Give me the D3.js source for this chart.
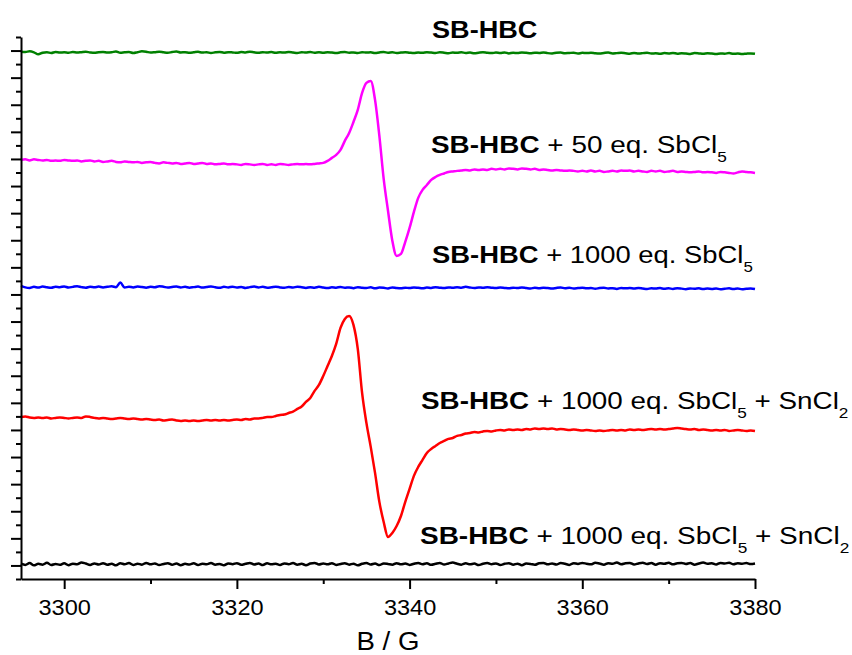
<!DOCTYPE html>
<html>
<head>
<meta charset="utf-8">
<script src="https://cdn.jsdelivr.net/npm/d3@7"></script>
<style>
  html, body { margin: 0; padding: 0; background: #fff; }
  svg { display: block; font-family: Arial, "Liberation Sans", Helvetica, sans-serif; }
  text { white-space: pre; }
</style>
</head>
<body>
<svg id="chart" width="852" height="655"></svg>
<script>
// ---- Field sweep (G) ------------------------------------------------------
const fieldStart = 3295;
const fieldEnd = 3380;
const fieldStep = 0.5;          // one sample every 0.5 G
const xMajorTicks = [3300, 3320, 3340, 3360, 3380];
const xMinorTicks = [3310, 3330, 3350, 3370];
const xTitle = "B / G";

// ---- Spectra (first-derivative EPR signal, a.u., relative to each baseline) ----
const sbHbc = [
  0.2, 0.0, 0.4, -0.3, -1.8, -0.6, -0.2, -0.8, -0.1, -0.5,
  -0.3, -0.6, -0.1, -0.5, -0.2, 0.1, -0.4, -0.7, -0.2, 0.0,
  -0.4, -0.2, 0.3, -0.6, -0.3, -0.1, -0.8, -0.2, 0.4, 0.1,
  -0.5, -0.2, 0.2, -0.3, -0.7, -0.1, 0.3, -0.4, -0.2, -0.6,
  -0.3, 0.1, -0.5, -0.2, -0.8, -0.3, 0.0, -0.6, -0.2, -0.4,
  -0.7, -0.1, -0.4, 0.2, -0.3, -0.6, -0.2, -0.5, -0.1, -0.7,
  -0.3, -0.5, 0.0, -0.4, -0.8, -0.2, -0.5, -0.1, -0.6, -0.3,
  -0.7, -0.2, -0.5, -0.9, -0.3, -0.1, -0.6, -0.4, -0.8, -0.2,
  -0.5, -0.3, -0.9, -0.4, -0.1, -0.6, -0.3, -0.8, -0.5, -0.2,
  -0.6, -0.9, -0.4, -0.7, -0.2, -0.5, -0.8, -0.3, -0.6, -1.0,
  -0.4, -0.7, -0.3, -0.8, -0.5, -1.0, -0.6, -0.3, -0.7, -0.9,
  -0.5, -0.8, -0.4, -1.1, -0.6, -0.9, -0.5, -0.7, -1.0, -0.6,
  -0.8, -0.4, -0.9, -1.1, -0.7, -0.5, -1.0, -0.8, -0.6, -1.2,
  -0.7, -0.9, -0.6, -1.0, -1.2, -0.8, -0.5, -1.1, -0.9, -0.7,
  -1.0, -1.3, -0.8, -1.1, -0.9, -0.6, -1.2, -1.0, -1.4, -0.9,
  -1.1, -0.8, -1.3, -1.0, -1.2, -1.5, -0.9, -1.1, -1.4, -1.0,
  -1.2, -1.5, -1.1, -1.3, -0.9, -1.4, -1.2, -1.6, -1.3, -1.1,
  -1.4
];

const sbHbcSbCl5x50 = [
  0.3, 0.7, -0.1, 0.7, 0.3, -0.1, 0.3, -0.4, -0.1, -0.4,
  0.3, -0.1, -0.4, -0.1, -0.8, -0.4, -0.1, -0.8, -0.4, -1.2,
  -0.8, -0.4, -1.2, -1.5, -0.8, -1.2, -1.5, -1.2, -1.9, -1.5,
  -1.2, -1.9, -2.3, -1.5, -1.9, -2.3, -1.9, -2.7, -2.3, -1.9,
  -2.7, -2.3, -1.9, -2.7, -2.3, -3.0, -2.7, -2.3, -3.0, -2.7,
  -3.0, -3.4, -2.7, -3.0, -3.4, -3.0, -2.7, -3.4, -3.0, -3.4,
  -2.7, -3.0, -3.4, -3.0, -2.7, -3.0, -2.7, -3.0, -2.7, -2.3,
  -1.9, -0.4, 1.8, 4.0, 7.7, 14.3, 20.2, 28.3, 37.2, 49.7,
  57.1, 58.6, 44.6, 18.0, -13.7, -37.2, -59.3, -70.6, -69.1, -60.2,
  -49.9, -38.1, -27.7, -21.8, -18.2, -14.5, -12.3, -10.8, -9.7, -8.6,
  -8.2, -7.8, -7.5, -7.1, -7.5, -6.7, -7.1, -6.7, -7.1, -6.3,
  -6.7, -6.3, -6.7, -6.0, -6.3, -6.7, -6.0, -6.3, -6.7, -6.3,
  -7.1, -6.7, -7.1, -7.5, -7.1, -7.5, -7.8, -7.5, -7.8, -8.2,
  -7.8, -8.2, -7.5, -8.2, -7.8, -8.6, -8.2, -7.8, -8.2, -7.5,
  -7.8, -7.5, -8.2, -7.8, -8.2, -8.6, -7.8, -8.2, -7.8, -8.6,
  -8.2, -7.8, -8.6, -8.2, -8.6, -8.9, -8.6, -8.2, -8.9, -8.6,
  -8.9, -9.3, -8.6, -8.9, -9.3, -9.7, -8.9, -8.2, -8.6, -8.9,
  -9.3
];

const sbHbcSbCl5x1000 = [
  0.3, -0.8, -1.2, -0.4, -0.9, -0.2, -0.7, -1.1, -0.3, -0.6,
  -0.1, -0.9, -0.4, 0.1, -0.6, -1.0, -0.3, -0.7, -0.2, -0.8,
  -0.4, 0.0, -0.6, 2.8, -0.9, -0.3, -0.8, -0.2, -0.5, -1.0,
  -0.4, -0.7, 0.1, -0.3, -0.9, -0.5, -0.2, -0.8, -0.4, -1.0,
  -0.6, -0.2, -0.9, -0.5, -0.1, -0.7, -1.1, -0.4, -0.8, -0.3,
  -0.9, -0.5, -1.2, -0.6, -0.2, -0.8, -0.4, -1.0, -0.7, -0.3,
  -0.8, -1.1, -0.5, -0.9, -0.3, -0.7, -1.2, -0.6, -1.0, -0.4,
  -0.9, -1.3, -0.7, -1.0, -0.5, -1.1, -0.8, -1.4, -0.6, -1.0,
  -1.2, -0.7, -1.5, -0.9, -1.1, -1.6, -0.8, -1.2, -1.4, -1.0,
  -1.3, -0.8, -1.1, -1.5, -0.9, -1.2, -0.6, -1.0, -1.3, -0.8,
  -1.1, -0.7, -1.0, -0.4, -0.9, -1.2, -0.8, -1.1, -0.6, -1.0,
  -1.3, -0.9, -1.2, -1.5, -1.0, -1.3, -0.8, -1.2, -1.6, -1.1,
  -1.4, -1.0, -1.3, -1.7, -1.2, -0.9, -1.4, -1.1, -1.6, -1.3,
  -1.0, -1.5, -1.2, -1.8, -1.3, -1.1, -1.6, -1.4, -1.9, -1.2,
  -1.5, -1.3, -1.7, -1.2, -1.6, -2.0, -1.4, -1.7, -1.3, -1.8,
  -1.5, -1.9, -1.4, -1.7, -2.1, -1.6, -1.8, -1.5, -2.0, -1.7,
  -1.9, -1.6, -2.2, -1.8, -1.5, -2.0, -1.7, -2.1, -1.8, -1.6,
  -2.0
];

const sbHbcSbCl5SnCl2a = [
  0.6, 1.0, 0.2, -0.1, 0.2, -0.1, 0.2, -0.5, -0.1, 0.2,
  -0.1, -0.5, -0.1, 0.2, -0.1, 1.0, 0.6, -0.1, -0.5, -0.1,
  -0.5, -0.9, -0.5, -0.1, -0.5, -0.9, -0.5, -0.9, -1.3, -0.9,
  -1.3, -1.6, -1.3, -2.0, -1.6, -1.3, -2.0, -2.4, -2.0, -2.4,
  -2.0, -2.4, -2.0, -1.6, -2.0, -1.6, -2.0, -1.6, -2.0, -1.6,
  -1.3, -1.6, -0.9, -1.3, -0.5, -0.5, -0.1, 0.6, 0.6, 1.3,
  2.1, 2.4, 3.5, 4.6, 6.5, 8.3, 11.7, 14.6, 19.8, 24.2,
  30.8, 38.2, 45.6, 54.5, 66.3, 72.9, 75.1, 68.5, 50.8, 18.3,
  -3.8, -21.5, -40.7, -62.1, -76.9, -88.0, -85.0, -79.9, -72.5, -62.1,
  -52.5, -42.9, -36.3, -31.1, -26.0, -23.0, -20.8, -18.6, -17.1, -15.6,
  -14.9, -13.4, -12.7, -11.6, -11.2, -10.5, -10.8, -10.1, -9.7, -10.1,
  -9.4, -9.0, -9.4, -8.6, -9.0, -8.6, -9.0, -8.3, -8.6, -7.9,
  -8.3, -7.9, -8.3, -7.9, -8.6, -8.3, -8.6, -9.0, -8.6, -9.0,
  -9.4, -9.0, -9.4, -9.7, -9.4, -9.7, -9.4, -9.0, -9.4, -9.0,
  -9.4, -8.6, -9.0, -8.6, -9.0, -8.6, -8.3, -8.6, -8.3, -8.6,
  -8.3, -7.9, -7.5, -7.9, -8.3, -8.6, -8.3, -9.0, -8.6, -9.0,
  -9.4, -9.0, -9.4, -9.0, -9.7, -9.4, -9.0, -9.4, -9.7, -9.4,
  -9.7
];

const sbHbcSbCl5SnCl2b = [
  0.3, -0.6, 0.8, -0.9, 0.2, -0.4, 1.0, -0.7, 0.1, -0.5,
  0.6, -0.8, 0.3, -0.2, 1.2, 0.4, -0.6, 0.5, -0.3, 0.7,
  -0.5, 0.2, -0.9, 0.6, -0.1, 0.8, -0.6, 0.3, -0.4, 0.9,
  -0.2, 0.5, -0.7, 0.1, 0.7, -0.5, 0.4, -0.8, 0.2, -0.3,
  0.6, -0.6, 0.3, -0.2, 0.8, -0.4, 0.1, -0.9, 0.5, -0.1,
  0.7, -0.5, 0.2, 0.9, -0.3, 0.4, -0.7, 0.6, -0.2, 0.3,
  -0.6, 0.5, -0.1, 0.8, -0.4, 0.2, -0.8, 0.4, 0.9, -0.3,
  0.5, -0.2, 0.7, -0.6, 0.1, 0.6, -0.4, 0.3, -0.9, 0.2,
  0.8, -0.3, 0.4, -0.7, 0.5, 0.1, -0.5, 0.7, -0.2, 0.4,
  -0.6, 0.3, 0.9, -0.1, 0.6, -0.5, 0.2, 0.8, -0.3, 0.5,
  1.1, 0.2, -0.4, 0.6, -0.2, 0.4, -0.7, 0.3, 0.8, -0.1,
  0.5, -0.6, 0.2, 0.7, -0.4, 0.3, -0.8, 0.4, 0.1, -0.5,
  0.6, 0.9, -0.2, 0.5, -0.3, 0.8, 0.2, -0.6, 0.7, 0.1,
  0.9, 0.3, -0.2, 1.0, 0.4, -0.4, 0.7, 0.2, 1.1, -0.1,
  0.6, 0.9, -0.3, 0.5, 1.0, 0.1, 0.8, -0.5, 0.7, 0.3,
  1.0, -0.2, 0.6, 0.9, 0.1, 0.8, -0.4, 0.5, 1.1, 0.2,
  0.7, -0.3, 0.9, 0.4, 1.0, -0.1, 0.6, 0.3, 0.8, 0.0,
  0.4
];

// Vertical stacking offset of each spectrum (a.u.)
const stackOffsets = [379, 299, 206, 109, 1];

// Legend text of each spectrum: b = bold, n = normal, s = subscript
const seriesLabels = [
  [["b", "SB-HBC"]],
  [["b", "SB-HBC"], ["n", " + 50 eq. SbCl"], ["s", "5"]],
  [["b", "SB-HBC"], ["n", " + 1000 eq. SbCl"], ["s", "5"]],
  [["b", "SB-HBC"], ["n", " + 1000 eq. SbCl"], ["s", "5"], ["n", " + SnCl"], ["s", "2"]],
  [["b", "SB-HBC"], ["n", " + 1000 eq. SbCl"], ["s", "5"], ["n", " + SnCl"], ["s", "2"]]
];

const spectra = [sbHbc, sbHbcSbCl5x50, sbHbcSbCl5x1000, sbHbcSbCl5SnCl2a, sbHbcSbCl5SnCl2b];

// ---- Styling / layout ----------------------------------------------------
const seriesColors = ["#008000", "#ff00ff", "#0000ff", "#ff0000", "#000000"];
const labelLayout = [
  { x: 432, y: 37.5, right: 537.5 },
  { x: 431, y: 152.5, right: 727 },
  { x: 432, y: 262.5, right: 753 },
  { x: 421, y: 408.5, right: 848.5 },
  { x: 420, y: 543.5, right: 849.5 }
];

const svg = d3.select("#chart");
const plot = { left: 21, right: 755, top: 37, bottom: 579 };

const x = d3.scaleLinear().domain([fieldStart, fieldEnd]).range([plot.left, plot.right]);
const y = d3.scaleLinear().domain([-10, 390]).range([plot.bottom, plot.top]);

// ---- Spectra -------------------------------------------------------------
const line = d3.line()
  .x((d, i) => x(fieldStart + i * fieldStep))
  .curve(d3.curveMonotoneX);

spectra.forEach((values, k) => {
  svg.append("path")
    .datum(values)
    .attr("fill", "none")
    .attr("stroke", seriesColors[k])
    .attr("stroke-width", 2.5)
    .attr("stroke-linejoin", "round")
    .attr("d", line.y(d => y(stackOffsets[k] + d)));
});

// ---- Axes ----------------------------------------------------------------
function styleAxis(g) {
  g.selectAll("path, line").attr("stroke", "#000").attr("stroke-width", 2);
}

// left axis: unlabeled intensity ticks
svg.append("g")
  .attr("transform", `translate(${plot.left},0)`)
  .call(d3.axisLeft(y).tickValues(d3.range(-10, 391, 20)).tickSize(5).tickSizeOuter(0).tickFormat(""))
  .call(styleAxis);
svg.append("g")
  .attr("transform", `translate(${plot.left},0)`)
  .call(d3.axisLeft(y).tickValues(d3.range(0, 381, 20)).tickSize(10).tickSizeOuter(0).tickFormat(""))
  .call(g => g.select(".domain").remove())
  .call(styleAxis);

// bottom axis: field
svg.append("g")
  .attr("transform", `translate(0,${plot.bottom})`)
  .call(d3.axisBottom(x).tickValues(xMinorTicks).tickSize(5).tickSizeOuter(0).tickFormat(""))
  .call(styleAxis);
const xAxis = svg.append("g")
  .attr("transform", `translate(0,${plot.bottom})`)
  .call(d3.axisBottom(x).tickValues(xMajorTicks).tickSize(10).tickSizeOuter(0).tickFormat(d3.format("d")))
  .call(g => g.select(".domain").remove())
  .call(styleAxis);
xAxis.selectAll("text")
  .attr("y", 36)
  .attr("dy", null)
  .attr("fill", "#000")
  .style("font-size", "22px")
  .style("font-family", "Arial, 'Liberation Sans', sans-serif")
  .attr("transform", "scale(1.07,1)");

// axis title
const titleG = svg.append("g");
const title = titleG.append("text")
  .attr("text-anchor", "middle")
  .style("font-size", "25px")
  .text(xTitle);
{
  const w = title.node().getBBox().width;
  const sx = 63 / w;
  titleG.attr("transform", `translate(${(plot.left + plot.right) / 2},650) scale(${sx},1)`);
}

// ---- Spectrum labels -----------------------------------------------------
seriesLabels.forEach((parts, k) => {
  const pos = labelLayout[k];
  const g = svg.append("g");
  const t = g.append("text").style("font-size", "23.5px").attr("fill", "#000");
  let shifted = false;
  parts.forEach(([kind, str]) => {
    const ts = t.append("tspan").text(str);
    if (kind === "b") ts.attr("font-weight", "bold");
    if (kind === "s") {
      ts.style("font-size", "14.5px").attr("dy", 9.5);
      shifted = true;
    } else if (shifted) {
      ts.attr("dy", -9.5);
      shifted = false;
    }
  });
  const w = t.node().getBBox().width;
  const sx = (pos.right - pos.x) / w;
  g.attr("transform", `translate(${pos.x},${pos.y}) scale(${sx},1)`);
});
</script>
</body>
</html>
